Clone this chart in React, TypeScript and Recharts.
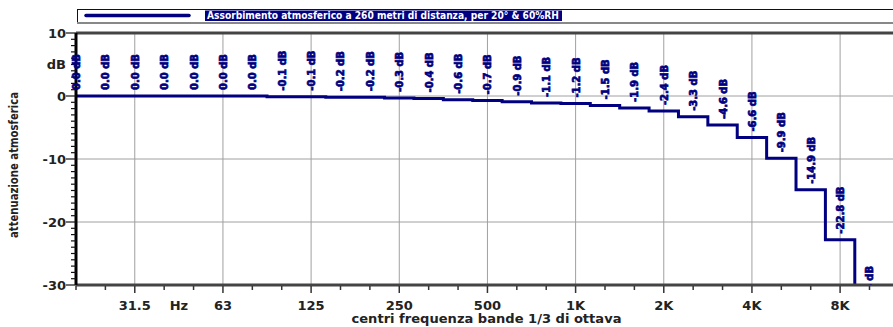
import { LineChart, Line, XAxis, YAxis, CartesianGrid, ReferenceLine, LabelList, Legend, Label } from 'recharts';

// 1/3 octave band centres, 20 Hz .. 10 kHz
const bands = [
  '20', '25', '31.5', '40', '50', '63', '80', '100', '125', '160', '200', '250', '315', '400',
  '500', '630', '800', '1K', '1.25K', '1.6K', '2K', '2.5K', '3.15K', '4K', '5K', '6.3K', '8K', '10K',
];
// attenuation in dB at 260 m, 20°C, 60% RH
const attenuation = [
  0.0, 0.0, 0.0, 0.0, 0.0, 0.0, 0.0, -0.1, -0.1, -0.2, -0.2, -0.3, -0.4, -0.6,
  -0.7, -0.9, -1.1, -1.2, -1.5, -1.9, -2.4, -3.3, -4.6, -6.6, -9.9, -14.9, -22.8, -35.4,
];
const octaveLabels = ['31.5', '63', '125', '250', '500', '1K', '2K', '4K', '8K'];
const yLabels = [10, 0, -10, -20, -30];
const yUnit = { value: 5, text: 'dB' };
const hzPos = 3.5; // "Hz" sits between 40 and 50

const W = 893;
const H = 327;
const TOP = 33;
const BOTTOM = 42;
const LEFT = 76;
const NAVY = '#000080';
const FONT = '"DejaVu Sans", Verdana, sans-serif';

const data = bands.map((b, i) => ({ i, band: b, value: attenuation[i] }));
const xTicks = [...bands.map((_, i) => i), hzPos];
const yTicks = Array.from({ length: 41 }, (_, k) => -30 + k);
const gridX = bands.map((b, i) => (octaveLabels.includes(b) ? i : -1)).filter(i => i >= 0);

function XTick({ x, y, payload }: any) {
  const v = payload.value;
  if (v === hzPos) {
    return <text x={x} y={y + 25} textAnchor="middle" fontSize={13} fontWeight="bold" fill="#222" fontFamily={FONT}>Hz</text>;
  }
  const b = bands[v];
  const major = octaveLabels.includes(b);
  return (
    <g>
      <line x1={x} x2={x} y1={y + 1} y2={y + (major ? 8 : 5)} stroke="#333" strokeWidth={1.5} />
      {major && (
        <text x={x} y={y + 25} textAnchor="middle" fontSize={13} fontWeight="bold" fill="#222" fontFamily={FONT}>{b}</text>
      )}
    </g>
  );
}

function YTick({ x, y, payload }: any) {
  const v = payload.value;
  const major = yLabels.includes(v);
  const txt = major ? String(v) : v === yUnit.value ? yUnit.text : null;
  return (
    <g>
      <line x1={x - (major ? 10 : 5)} x2={x} y1={y} y2={y} stroke="#111" strokeWidth={1.2} />
      {txt && (
        <text x={x - 10} y={y} dy="0.36em" textAnchor="end" fontSize={13} fontWeight="bold" fill="#222" fontFamily={FONT}>{txt}</text>
      )}
    </g>
  );
}

function ValueLabel({ x, y, value, index }: any) {
  const txt = `${value === 0 ? '0.0' : Number(value).toFixed(1)} dB`;
  return (
    <g>
      {index === 0 && (
        <defs>
          <clipPath id="valueClip">
            <rect x={0} y={TOP} width={W} height={H - TOP - BOTTOM} />
          </clipPath>
        </defs>
      )}
      <g clipPath="url(#valueClip)">
        <text
          transform={`translate(${x + 4},${y - 6}) rotate(-90)`}
          fontSize={10} fontWeight="bold" fill={NAVY} stroke={NAVY} strokeWidth={0.7}
          fontFamily={FONT}
        >{txt}</text>
      </g>
    </g>
  );
}

function LegendBox() {
  return (
    <svg width={816} height={15} style={{ display: 'block' }}>
      <rect x={0} y={0} width={816} height={14} fill="#fff" />
      <line x1={0} x2={816} y1={0.5} y2={0.5} stroke="#111" />
      <line x1={0.5} x2={0.5} y1={0} y2={14} stroke="#111" />
      <line x1={0} x2={816} y1={14} y2={14} stroke="#888" strokeWidth={2} />
      <line x1={9} x2={112} y1={6.5} y2={6.5} stroke={NAVY} strokeWidth={3.5} strokeLinecap="round" />
      <rect x={128} y={1.5} width={357} height={10.5} fill={NAVY} />
      <text x={130} y={10} fontSize={10} fontWeight="bold" fill="#fff" fontFamily={FONT} textLength={352} lengthAdjust="spacingAndGlyphs">
        Assorbimento atmosferico a 260 metri di distanza, per 20° &amp; 60%RH
      </text>
    </svg>
  );
}

function YTitle({ viewBox }: any) {
  const cy = viewBox.y + viewBox.height / 2 + 6;
  return (
    <text transform={`translate(18,${cy}) rotate(-90)`} textAnchor="middle" fontSize={12} fontWeight="bold" fill="#222" fontFamily={FONT} textLength={146} lengthAdjust="spacingAndGlyphs">
      attenuazione atmosferica
    </text>
  );
}

function XTitle({ viewBox }: any) {
  const cx = viewBox.x + viewBox.width / 2 + 2;
  return (
    <text x={cx} y={viewBox.y + 38} textAnchor="middle" fontSize={12} fontWeight="bold" fill="#222" fontFamily={FONT} textLength={270} lengthAdjust="spacingAndGlyphs">
      centri frequenza bande 1/3 di ottava
    </text>
  );
}

export default function App() {
  return (
    <div style={{ position: 'absolute', left: 0, top: 0, width: W, height: H, background: '#fff' }}>
      <LineChart width={W} height={H} data={data} margin={{ top: TOP, right: 0, bottom: 0, left: 0 }}>
        <CartesianGrid stroke="#a0a0a0" strokeWidth={1} horizontalValues={[-20, -10, 0]} verticalValues={gridX} />
        <XAxis
          type="number" dataKey="i" domain={[0, 27.8]} allowDataOverflow
          ticks={xTicks} interval={0} height={BOTTOM}
          tickSize={0} tickMargin={0} tickLine={false}
          axisLine={{ stroke: '#444', strokeWidth: 3 }}
          tick={<XTick />}
        >
          <Label content={<XTitle />} />
        </XAxis>
        <YAxis
          type="number" domain={[-30, 10]} allowDataOverflow
          ticks={yTicks} interval={0} width={LEFT}
          tickSize={0} tickMargin={0} tickLine={false}
          axisLine={{ stroke: '#000', strokeWidth: 3 }}
          tick={<YTick />}
        >
          <Label content={<YTitle />} />
        </YAxis>
        <ReferenceLine y={10} stroke="#444" strokeWidth={3} />
        <Legend
          layout="horizontal" verticalAlign="middle" align="center"
          wrapperStyle={{ top: 9, left: 77, width: 816, height: 15 }}
          content={<LegendBox />}
        />
        <Line
          dataKey="value" type="step" stroke={NAVY} strokeWidth={3}
          dot={false} activeDot={false} isAnimationActive={false}
        >
          <LabelList dataKey="value" content={<ValueLabel />} />
        </Line>
      </LineChart>
    </div>
  );
}
